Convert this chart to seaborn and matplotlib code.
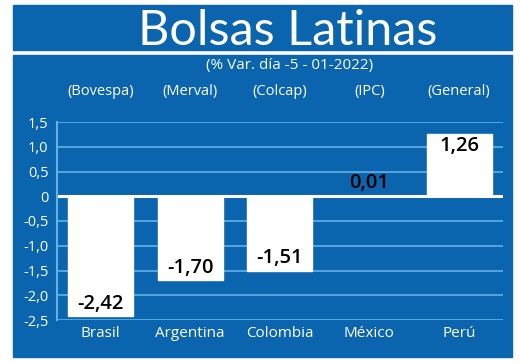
import matplotlib
matplotlib.use("Agg")
import matplotlib.pyplot as plt
import matplotlib.patches as mpatches
import seaborn as sns
import pandas as pd

# data
countries = ["Brasil", "Argentina", "Colombia", "México", "Perú"]
indices = ["(Bovespa)", "(Merval)", "(Colcap)", "(IPC)", "(General)"]
changes = [-2.42, -1.70, -1.51, 0.01, 1.26]
yticks = [1.5, 1.0, 0.5, 0, -0.5, -1.0, -1.5, -2.0, -2.5]
ytick_labels = ["1,5", "1,0", "0,5", "0", "-0,5", "-1,0", "-1,5", "-2,0", "-2,5"]

df = pd.DataFrame({"pais": countries, "var": changes})

BLUE = "#0a64ae"
GRID = "#62b2e4"

sns.set_style("white")
plt.rcParams["font.family"] = ["Open Sans", "DejaVu Sans"]

fig = plt.figure(figsize=(5.2, 3.64), dpi=100)
fig.patch.set_facecolor("white")

# blue panels (title box + chart box)
W, H = 520, 364
fig.patches.append(mpatches.Rectangle((13 / W, 1 - 50 / H), 499 / W, 45 / H,
                                      transform=fig.transFigure, color=BLUE, zorder=-5))
fig.patches.append(mpatches.Rectangle((13 / W, 1 - 357 / H), 499 / W, 302 / H,
                                      transform=fig.transFigure, color=BLUE, zorder=-5))

ax = fig.add_axes([57 / W, 1 - 320 / H, 446 / W, 198 / H])
ax.set_facecolor(BLUE)

sns.barplot(data=df, x="pais", y="var", color="white", saturation=1,
            width=0.725, ax=ax, zorder=3)

ax.set_ylim(-2.5, 1.5)
ax.set_xlim(-0.485, 4.49)
ax.set_yticks(yticks)
ax.set_yticklabels(ytick_labels)
for y in yticks:
    ax.axhline(y, color=GRID, lw=1.2, zorder=1)
ax.axhline(0, color="white", lw=2.2, zorder=4)

for s in ["top", "right", "bottom"]:
    ax.spines[s].set_visible(False)
ax.spines["left"].set_color(GRID)
ax.spines["left"].set_linewidth(1.5)
ax.spines["left"].set_zorder(5)

ax.tick_params(axis="y", length=0, pad=6, labelsize=10.5, labelcolor="white")
ax.tick_params(axis="x", length=0, pad=4, labelsize=11, labelcolor="white")
ax.set_xlabel("")
ax.set_ylabel("")

# value labels
for i, v in enumerate(changes):
    label = f"{v:.2f}".replace(".", ",")
    off = 9 if v < 0.1 else -9
    ax.annotate(label, (i, v), xytext=(0, off), textcoords="offset points",
                ha="center", va="center", fontsize=14.5, color="black",
                fontweight="semibold", zorder=6)

# index names above the chart
for i, name in enumerate(indices):
    ax.text(i, 1.0 + 30 / 198, name, transform=ax.get_xaxis_transform(),
            ha="center", va="center", fontsize=10.5, color="white")

fig.text(288 / W, 1 - 31 / H, "Bolsas Latinas", ha="center", va="center",
         fontsize=35, color="white", family=["Lato", "DejaVu Sans"])
fig.text(290 / W, 1 - 66 / H, "(% Var. día -5 - 01-2022)", ha="center",
         va="center", fontsize=11, color="white")

fig.savefig("out.png", dpi=100, facecolor="white")
